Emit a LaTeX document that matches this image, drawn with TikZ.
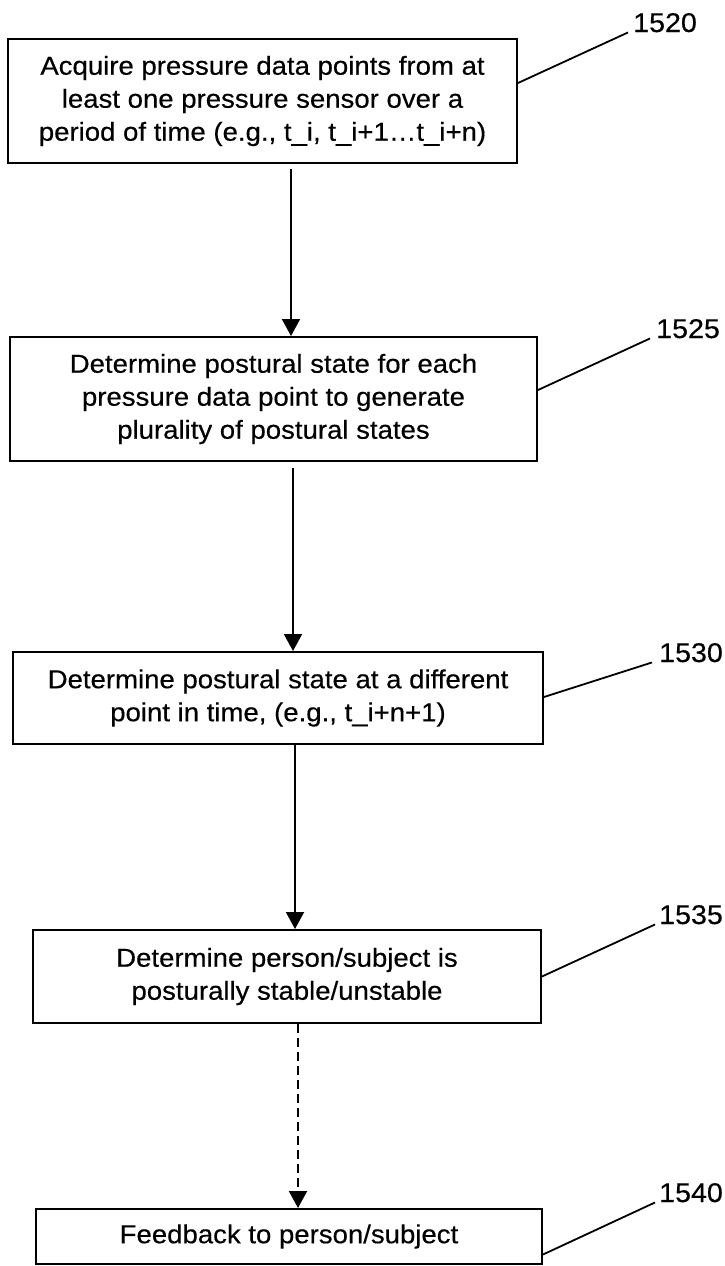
\documentclass[tikz,border=0pt]{standalone}
\usepackage{fontspec}
\setmainfont{Liberation Sans}[FakeStretch=1.06,FakeBold=0.4]
\usetikzlibrary{arrows.meta}
\begin{document}
\begin{tikzpicture}[x=1pt,y=-1pt,
  box/.style={draw, line width=2pt, align=center, font=\fontsize{26}{33}\selectfont, inner sep=0pt},
  arr/.style={line width=2pt, -{Triangle[length=17pt,width=18pt]}},
  lead/.style={line width=1.8pt},
  lbl/.style={font=\fontsize{27}{30}\selectfont, inner sep=0pt, anchor=base west}]
\useasboundingbox (0,0) rectangle (724,1266);

\node[box, minimum width=509pt, minimum height=124pt] (b1) at (262.5,101)
  {Acquire pressure data points from at\\least one pressure sensor over a\\period of time (e.g., t\_i, t\_i+1…t\_i+n)};
\node[box, minimum width=527pt, minimum height=124pt] (b2) at (273.5,399)
  {Determine postural state for each\\pressure data point to generate\\plurality of postural states};
\node[box, minimum width=530pt, minimum height=92pt] (b3) at (278,698)
  {Determine postural state at a different\\point in time, (e.g., t\_i+n+1)};
\node[box, minimum width=508pt, minimum height=93pt] (b4) at (287,976.5)
  {Determine person/subject is\\posturally stable/unstable};
\node[box, minimum width=506pt, minimum height=55pt] (b5) at (289,1236.5)
  {Feedback to person/subject};

\coordinate (x1) at (291,0);
\coordinate (x2) at (293,0);
\coordinate (x3) at (295,0);
\coordinate (x4) at (298,0);
\draw[arr, shorten <=5pt] (b1.south -| x1) -- (b2.north -| x1);
\draw[arr, shorten <=6pt] (b2.south -| x2) -- (b3.north -| x2);
\draw[arr] (b3.south -| x3) -- (b4.north -| x3);
\draw[arr, dash pattern=on 9pt off 5pt] (b4.south -| x4) -- (b5.north -| x4);

\node[lbl] (l1) at (633,32) {1520};
\node[lbl] (l2) at (656,338) {1525};
\node[lbl] (l3) at (659,662) {1530};
\node[lbl] (l4) at (659,924) {1535};
\node[lbl] (l5) at (659,1202) {1540};

\draw[lead] ([yshift=18pt]b1.east) -- ([xshift=-5pt]l1.south west);
\draw[lead] ([yshift=9pt]b2.east) -- ([xshift=-6pt]l2.south west);
\draw[lead] ([yshift=1pt]b3.east) -- ([xshift=-7pt]l3.south west);
\draw[lead] (b4.east) -- ([xshift=-4pt]l4.south west);
\draw[lead] ([yshift=-18pt]b5.east) -- ([xshift=-4pt]l5.south west);
\end{tikzpicture}
\end{document}
